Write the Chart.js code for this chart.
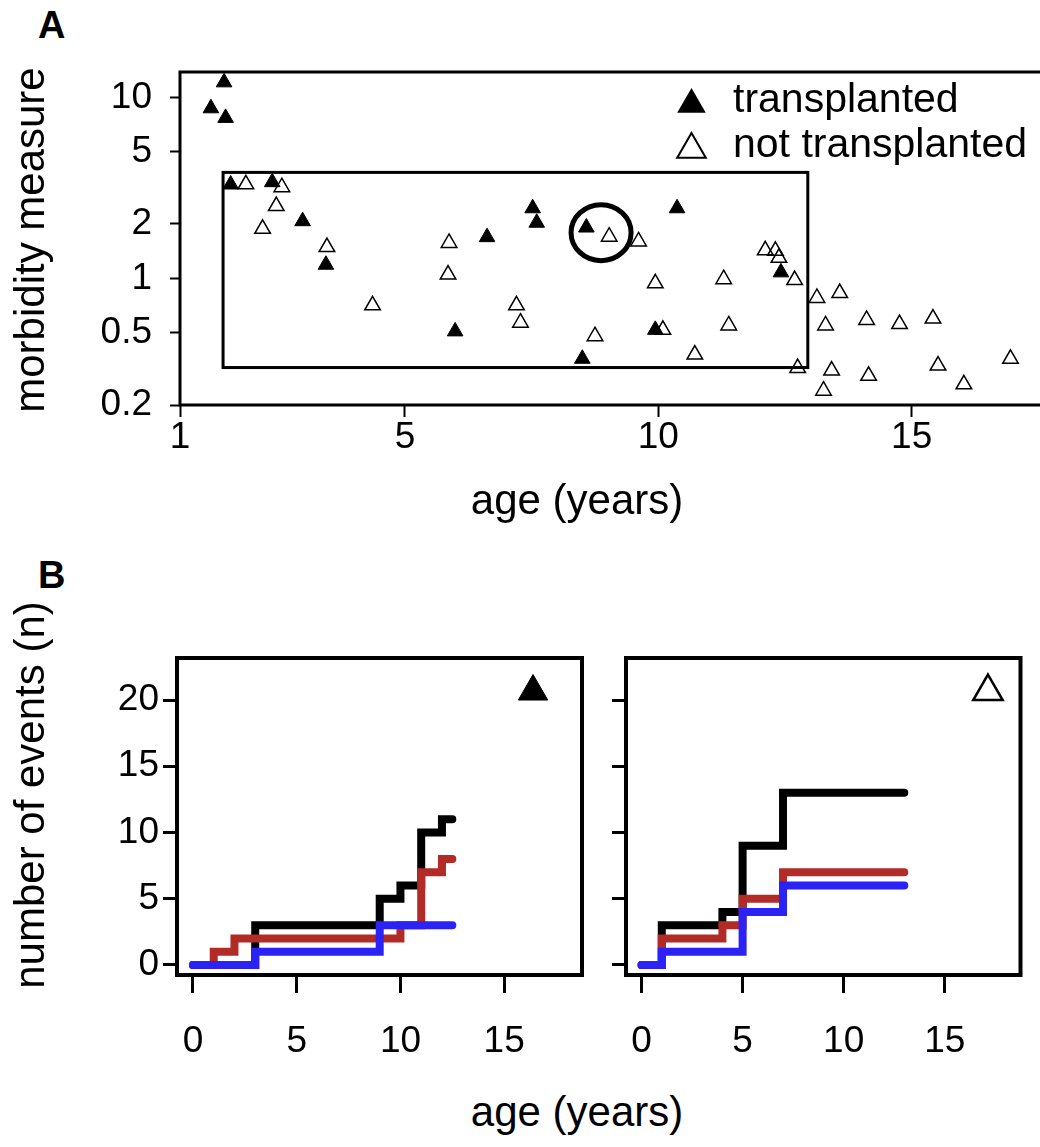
<!DOCTYPE html>
<html>
<head>
<meta charset="utf-8">
<script src="https://cdn.jsdelivr.net/npm/chart.js@4.4.1/dist/chart.umd.min.js"></script>
<style>
  body { margin: 0; background: #fff; }
  #page { position: relative; width: 1040px; height: 1147px; overflow: hidden; background: #fff;
          font-family: 'Liberation Sans', Arial, sans-serif; color: #000; }
  canvas { position: absolute; }
  .lbl { position: absolute; white-space: nowrap; line-height: 1; }
  .panel { font-weight: bold; font-size: 38px; }
  .title { font-size: 42px; transform: translate(-50%, -50%); }
  .rot { transform: translate(-50%, -50%) rotate(-90deg); }
</style>
</head>
<body>
<div id="page">
  <div class="lbl panel" style="left:38px; top:6px">A</div>
  <div class="lbl panel" style="left:38px; top:556px">B</div>
  <canvas id="chartA" width="1060" height="540" style="left:0; top:0"></canvas>
  <canvas id="chartB1" width="600" height="440" style="left:0; top:620px"></canvas>
  <canvas id="chartB2" width="440" height="440" style="left:600px; top:620px"></canvas>
  <div class="lbl title rot" style="left:30px; top:240px">morbidity measure</div>
  <div class="lbl title" style="left:577px; top:500px">age (years)</div>
  <div class="lbl title rot" style="left:30px; top:795px">number of events (n)</div>
  <div class="lbl title" style="left:577px; top:1112px">age (years)</div>
</div>
<script>
// ---- panel A: morbidity vs age ----
const transAge  = [1.17, 1.43, 1.46, 1.56, 2.38, 2.98, 3.44, 5.99, 6.62, 7.52, 7.60, 8.50, 8.58, 9.94, 10.37, 12.42];
const transMorb = [8.7, 12.1, 7.7, 3.3, 3.4, 2.07, 1.19, 0.51, 1.69, 2.44, 2.03, 0.36, 1.91, 0.52, 2.44, 1.08];

const notTransAge  = [1.86, 2.19, 2.46, 2.57, 3.46, 4.36, 5.85, 5.87, 7.20, 7.28, 8.75, 9.03, 9.61, 9.94,
                      10.09, 10.72, 11.29, 11.39, 12.11, 12.31, 12.38, 12.69, 12.75, 13.13, 13.26, 13.30,
                      13.42, 13.58, 14.11, 14.15, 14.76, 15.42, 15.52, 16.03, 16.95];
const notTransMorb = [3.31, 1.88, 2.51, 3.19, 1.49, 0.71, 1.05, 1.57, 0.71, 0.57, 0.48, 1.70, 1.60, 0.94,
                      0.52, 0.38, 0.99, 0.55, 1.43, 1.42, 1.30, 0.98, 0.32, 0.78, 0.24, 0.55,
                      0.31, 0.83, 0.59, 0.29, 0.56, 0.60, 0.33, 0.26, 0.36];

const xMinA = 0.56, xMaxA = 17.72;
const ageTickValsA = [xMinA, 5, 10, 15];
const ageTickLabelsA = ['1', '5', '10', '15'];
const morbTicks = [0.2, 0.5, 1, 2, 5, 10];

// highlighted region and circled pair (data units)
const boxAge = [1.41, 12.95];
const boxMorb = [0.322, 3.85];
const circleAt = [8.87, 1.79];

// ---- panel B: cumulative events, stepped ----
const ageTicksB = [0, 5, 10, 15];
const eventTicks = [0, 5, 10, 15, 20];

const txBlackAge = [0, 3, 9, 10, 11, 12, 12.5];
const txBlackN   = [0, 3, 5, 6, 10, 11, 11];
const txRedAge   = [0, 1, 2, 10, 11, 12, 12.5];
const txRedN     = [0, 1, 2, 3, 7, 8, 8];
const txBlueAge  = [0, 3, 9, 12.5];
const txBlueN    = [0, 1, 3, 3];

const ntBlackAge = [0, 1, 4, 5, 7, 13];
const ntBlackN   = [0, 3, 4, 9, 13, 13];
const ntRedAge   = [0, 1, 4, 5, 7, 13];
const ntRedN     = [0, 2, 3, 5, 7, 7];
const ntBlueAge  = [0, 1, 5, 7, 13];
const ntBlueN    = [0, 1, 4, 6, 6];

const symbolAt = [[16.39, 20.64], [17.14, 20.64]];

const RED = '#B22B26';
const BLUE = '#2B22F5';
const FONT = "'Liberation Sans', Arial, sans-serif";
Chart.defaults.font.family = FONT;
Chart.defaults.color = '#000';

const zip = (xs, ys) => xs.map((x, i) => ({ x: x, y: ys[i] }));
const tickFont = { size: 37, lineHeight: 1 };

function tri(ctx, cx, cy, r) {
    ctx.beginPath();
    ctx.moveTo(cx, cy - r);
    ctx.lineTo(cx + r * 0.866, cy + r / 2);
    ctx.lineTo(cx - r * 0.866, cy + r / 2);
    ctx.closePath();
}

const framePlugin = {
    id: 'frame',
    afterDraw(chart, args, opts) {
        const { ctx, chartArea: a } = chart;
        ctx.save();
        ctx.strokeStyle = '#000';
        ctx.lineWidth = opts.width || 3;
        ctx.strokeRect(a.left, a.top, a.right - a.left, a.bottom - a.top);
        ctx.restore();
    }
};

const highlightPlugin = {
    id: 'highlight',
    afterDatasetsDraw(chart) {
        const { ctx, chartArea: a } = chart;
        const x = chart.scales.x, y = chart.scales.y;
        ctx.save();
        ctx.strokeStyle = '#000';
        ctx.lineWidth = 3;
        const l = x.getPixelForValue(boxAge[0]), r = x.getPixelForValue(boxAge[1]);
        const t = y.getPixelForValue(boxMorb[1]), b = y.getPixelForValue(boxMorb[0]);
        ctx.strokeRect(l, t, r - l, b - t);

        ctx.lineWidth = 5;
        ctx.beginPath();
        ctx.ellipse(x.getPixelForValue(circleAt[0]), y.getPixelForValue(circleAt[1]), 30, 28, 0, 0, Math.PI * 2);
        ctx.stroke();

        // legend, top right inside the plot
        const lx = a.left + 511.5, ly = a.top + 32.5;
        ctx.font = '41px ' + FONT;
        ctx.textBaseline = 'alphabetic';
        chart.data.datasets.forEach((ds, i) => {
            const cy = ly + i * 45;
            tri(ctx, lx, cy, 16.5);
            if (i === 0) {
                ctx.fillStyle = '#000';
                ctx.fill();
            } else {
                ctx.lineWidth = 2;
                ctx.stroke();
            }
            ctx.fillStyle = '#000';
            ctx.fillText(ds.label, lx + 41.5, cy + 7.5);
        });
        ctx.restore();
    }
};

new Chart(document.getElementById('chartA'), {
    type: 'scatter',
    data: {
        datasets: [{
            label: 'transplanted',
            data: zip(transAge, transMorb),
            pointStyle: 'triangle',
            pointRadius: 9,
            backgroundColor: '#000',
            borderColor: '#000',
            borderWidth: 1
        }, {
            label: 'not transplanted',
            data: zip(notTransAge, notTransMorb),
            pointStyle: 'triangle',
            pointRadius: 9,
            backgroundColor: 'rgba(0,0,0,0)',
            borderColor: '#000',
            borderWidth: 1.5
        }]
    },
    options: {
        responsive: false,
        animation: false,
        events: [],
        layout: { padding: { left: 0, top: 72, right: 10, bottom: 0 } },
        plugins: {
            legend: { display: false },
            tooltip: { enabled: false },
            frame: { width: 3 }
        },
        scales: {
            x: {
                type: 'linear',
                min: xMinA,
                max: xMaxA,
                afterBuildTicks: s => { s.ticks = ageTickValsA.map(v => ({ value: v })); },
                afterFit: s => { s.height = 135; },
                border: { display: false },
                grid: { drawOnChartArea: false, tickLength: 12, tickWidth: 2, tickColor: '#000' },
                ticks: {
                    autoSkip: false, maxRotation: 0, padding: 2, color: '#000', font: tickFont,
                    callback: (v, i) => ageTickLabelsA[i]
                }
            },
            y: {
                type: 'logarithmic',
                min: 0.2,
                max: 13.8,
                afterBuildTicks: s => { s.ticks = morbTicks.map(v => ({ value: v })); },
                afterFit: s => { s.width = 180; },
                border: { display: false },
                grid: { drawOnChartArea: false, tickLength: 10, tickWidth: 2, tickColor: '#000' },
                ticks: {
                    autoSkip: false, padding: 18, color: '#000', font: tickFont,
                    callback: v => String(v)
                }
            }
        }
    },
    plugins: [framePlugin, highlightPlugin]
});

function eventChart(canvasId, series, symbolPos, filled, axisWidth, rightPad, showLabels) {
    const datasets = series.map(s => ({
        data: zip(s.age, s.n),
        borderColor: s.color,
        borderWidth: 8,
        borderCapStyle: 'round',
        stepped: 'before',
        pointRadius: 0,
        order: s.order
    }));
    datasets.push({
        data: [{ x: symbolPos[0], y: symbolPos[1] }],
        showLine: false,
        pointStyle: 'triangle',
        pointRadius: 17,
        pointBackgroundColor: filled ? '#000' : 'rgba(0,0,0,0)',
        pointBorderColor: '#000',
        pointBorderWidth: filled ? 1 : 2.5,
        order: 0
    });
    return new Chart(document.getElementById(canvasId), {
        type: 'line',
        data: { datasets: datasets },
        options: {
            responsive: false,
            animation: false,
            events: [],
            layout: { padding: { left: 0, top: 38, right: rightPad, bottom: 0 } },
            plugins: {
                legend: { display: false },
                tooltip: { enabled: false },
                frame: { width: 4 }
            },
            scales: {
                x: {
                    type: 'linear',
                    min: -0.77,
                    max: 18.75,
                    afterBuildTicks: s => { s.ticks = ageTicksB.map(v => ({ value: v })); },
                    afterFit: s => { s.height = 85; },
                    border: { display: false },
                    grid: { drawOnChartArea: false, tickLength: 18, tickWidth: 3, tickColor: '#000' },
                    ticks: { autoSkip: false, maxRotation: 0, padding: 30, color: '#000', font: tickFont }
                },
                y: {
                    type: 'linear',
                    min: -0.755,
                    max: 23.17,
                    afterBuildTicks: s => { s.ticks = eventTicks.map(v => ({ value: v })); },
                    afterFit: s => { s.width = axisWidth; },
                    border: { display: false },
                    grid: { drawOnChartArea: false, tickLength: 14, tickWidth: 3, tickColor: '#000' },
                    ticks: {
                        autoSkip: false, padding: 4, color: '#000', font: tickFont,
                        callback: v => showLabels ? String(v) : ''
                    }
                }
            }
        },
        plugins: [framePlugin]
    });
}

eventChart('chartB1', [
    { age: txBlackAge, n: txBlackN, color: '#000', order: 3 },
    { age: txRedAge, n: txRedN, color: RED, order: 2 },
    { age: txBlueAge, n: txBlueN, color: BLUE, order: 1 }
], symbolAt[0], true, 177, 17, true);

eventChart('chartB2', [
    { age: ntBlackAge, n: ntBlackN, color: '#000', order: 3 },
    { age: ntRedAge, n: ntRedN, color: RED, order: 2 },
    { age: ntBlueAge, n: ntBlueN, color: BLUE, order: 1 }
], symbolAt[1], false, 26, 8, false);
</script>
</body>
</html>
